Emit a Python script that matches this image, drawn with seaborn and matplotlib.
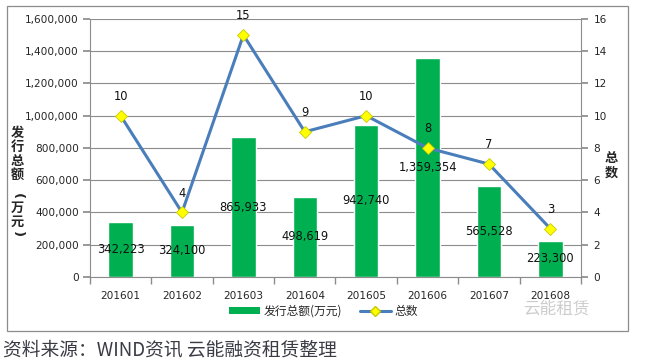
import matplotlib
matplotlib.use("Agg")
import matplotlib.pyplot as plt
import seaborn as sns
import pandas as pd
from matplotlib.patches import Rectangle, Patch
from matplotlib.lines import Line2D
from matplotlib.ticker import FuncFormatter, MultipleLocator

months = ["201601", "201602", "201603", "201604", "201605", "201606", "201607", "201608"]
amounts = [342223, 324100, 865933, 498619, 942740, 1359354, 565528, 223300]
counts = [10, 4, 15, 9, 10, 8, 7, 3]

sns.set_theme(style="white")
plt.rcParams['font.family'] = ['DejaVu Sans', 'Noto Sans CJK SC']

df = pd.DataFrame({"month": months, "amount": amounts, "count": counts})

fig = plt.figure(figsize=(6.47, 3.63), dpi=100)
ax = fig.add_axes([0.139, 0.237, 0.759, 0.711])

sns.barplot(data=df, x="month", y="amount", color="#00B050", saturation=1, width=0.4, ax=ax)
ax.set_ylim(0, 1600000)
ax.yaxis.set_major_locator(MultipleLocator(200000))
ax.yaxis.set_major_formatter(FuncFormatter(lambda v, p: f"{int(v):,}"))
ax.set_xlim(-0.5, len(months) - 0.5)
ax.grid(axis="y", color="#8c8c8c", linewidth=0.8)
ax.set_axisbelow(True)
for s in ["top", "right"]:
    ax.spines[s].set_visible(False)
for s in ["left", "bottom"]:
    ax.spines[s].set_color("#8c8c8c")
    ax.spines[s].set_linewidth(0.8)
ax.tick_params(axis="y", length=5, color="#8c8c8c", labelsize=7.6, left=True, pad=3)
ax.tick_params(axis="x", length=0, labelsize=7.6, pad=10)
ax.set_xlabel("")
ax.set_ylabel("")
ax.set_xticks([i - 0.5 for i in range(len(months) + 1)], minor=True)
ax.tick_params(axis="x", which="minor", length=5, color="#8c8c8c", bottom=True)

for i, v in enumerate(amounts):
    ax.text(i, v / 2, f"{v:,}", ha="center", va="center", fontsize=8.3, color="#111111")

ax2 = ax.twinx()
sns.lineplot(data=df, x="month", y="count", ax=ax2, color="#4A7EBB", linewidth=2.2,
             marker="D", markersize=6, markerfacecolor="#FFFF00", markeredgecolor="#C8C800",
             markeredgewidth=0.6, sort=False)
ax2.set_ylim(0, 16)
ax2.yaxis.set_major_locator(MultipleLocator(2))
ax2.set_ylabel("")
ax2.set_xlabel("")
for s in ["top", "left", "bottom"]:
    ax2.spines[s].set_visible(False)
ax2.spines["right"].set_color("#8c8c8c")
ax2.spines["right"].set_linewidth(0.8)
ax2.tick_params(axis="y", length=5, color="#8c8c8c", labelsize=7.6, right=True, pad=4)
ax2.set_xlim(-0.5, len(months) - 0.5)
for i, c in enumerate(counts):
    ax2.text(i, c + 0.8, str(c), ha="center", va="bottom", fontsize=8.3, color="#111111")

cjk = ['Noto Sans CJK SC', 'DejaVu Sans']
H = 363.0
lx = 0.027
fig.text(lx, 1 - 154 / H, "发\n行\n总\n额", ha="center", va="center", fontsize=9.5,
         fontweight="bold", family=cjk, linespacing=1.0)
fig.text(lx, 1 - 196 / H, "(", ha="center", va="center", fontsize=9.5,
         fontweight="bold", rotation=-90)
fig.text(lx, 1 - 215 / H, "万\n元", ha="center", va="center", fontsize=9.5,
         fontweight="bold", family=cjk, linespacing=1.0)
fig.text(lx, 1 - 234 / H, ")", ha="center", va="center", fontsize=9.5,
         fontweight="bold", rotation=-90)
fig.text(0.945, 0.545, "总\n数", ha="center", va="center", fontsize=9.5,
         fontweight="bold", family=cjk, linespacing=1.1)

handles = [Patch(facecolor="#00B050", edgecolor="none"),
           Line2D([0], [0], color="#4A7EBB", linewidth=2.2, marker="D", markersize=5,
                  markerfacecolor="#FFFF00", markeredgecolor="#C8C800")]
leg = fig.legend(handles, ["发行总额(万元)", "总数"], loc="center", bbox_to_anchor=(0.5, 0.143),
                 ncol=2, frameon=False, prop={"family": cjk, "size": 8.5},
                 handlelength=2.6, handleheight=0.6, columnspacing=1.5, handletextpad=0.3)

# watermark
fig.text(0.86, 0.148, "云能租赁", ha="center", va="center", fontsize=12, color="#c4c4c4",
         family=cjk, alpha=0.85)

# outer border
fig.patches.append(Rectangle((7 / 647, 1 - 331 / 363), (628 - 7) / 647, (331 - 6) / 363,
                             transform=fig.transFigure, fill=False, edgecolor="#8c8c8c",
                             linewidth=0.9))

fig.text(0.005, 0.035, "资料来源：WIND资讯 云能融资租赁整理", ha="left", va="center",
         fontsize=13.5, color="#3b3b46", family=cjk)

fig.savefig("out.png", dpi=100)
